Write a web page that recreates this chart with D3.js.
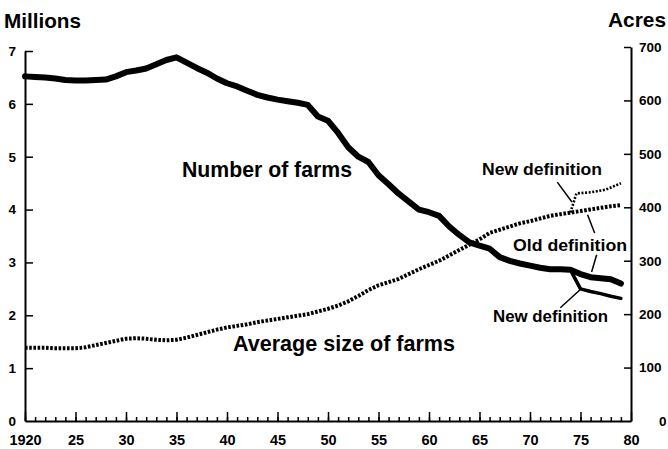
<!DOCTYPE html>
<html>
<head>
<meta charset="utf-8">
<script src="https://cdn.jsdelivr.net/npm/d3@7"></script>
<style>
  body { margin: 0; background: #fff; }
  svg { display: block; }
  text { font-family: "Liberation Sans", Arial, sans-serif; font-weight: bold; fill: #000; }
</style>
</head>
<body>
<svg id="chart" width="668" height="449"></svg>
<script>
// Years 1920..1979
const years = d3.range(1920, 1980);

// Number of farms, millions (old definition)
const farms = [
  6.52, 6.51, 6.50, 6.48, 6.45, 6.44, 6.44, 6.45, 6.46, 6.52,
  6.60, 6.63, 6.67, 6.75, 6.83, 6.88, 6.78, 6.68, 6.59, 6.48,
  6.39, 6.33, 6.25, 6.17, 6.12, 6.08, 6.05, 6.02, 5.98, 5.76,
  5.68, 5.45, 5.18, 5.00, 4.90, 4.65, 4.48, 4.30, 4.15, 4.00,
  3.95, 3.88, 3.68, 3.52, 3.38, 3.32, 3.26, 3.10, 3.03, 2.98,
  2.94, 2.90, 2.87, 2.87, 2.86, 2.78, 2.72, 2.70, 2.68, 2.60
];

// Average size of farms, acres (old definition)
const avgSize = [
  137, 137, 137, 136, 136, 136, 138, 142, 146, 150,
  154, 155, 154, 152, 151, 152, 156, 161, 166, 171,
  175, 178, 181, 185, 188, 191, 194, 197, 200, 205,
  210, 216, 224, 234, 245, 254, 260, 266, 275, 284,
  292, 300, 310, 320, 330, 340, 352, 358, 364, 370,
  374, 379, 384, 387, 390, 393, 396, 399, 402, 404
];

// New definition branches (from 1974)
const newYears = [1974, 1975, 1976, 1977, 1978, 1979];
const farmsNew = [2.86, 2.50, 2.45, 2.41, 2.36, 2.32];
const avgNewYears = [1974, 1974.6, 1976, 1977.5, 1979];
const avgSizeNew = [390, 426, 428, 433, 445];

const leftTicks = [0, 1, 2, 3, 4, 5, 6, 7];
const rightTicks = [0, 100, 200, 300, 400, 500, 600, 700];
const yearTicks = [1920, 1925, 1930, 1935, 1940, 1945, 1950, 1955, 1960, 1965, 1970, 1975, 1980];

const svg = d3.select('#chart');

const x = d3.scaleLinear().domain([1920, 1980]).range([25, 631]);
const yL = d3.scaleLinear().domain([0, 7]).range([421, 51]);
const yR = d3.scaleLinear().domain([0, 700]).range([421, 47]);

// Axes
const xMinor = svg.append('g')
  .attr('transform', `translate(0,${yL(0)})`)
  .call(d3.axisBottom(x).tickValues(years).tickSize(-4).tickSizeOuter(0).tickFormat(''));
xMinor.select('.domain').attr('stroke-width', 2);
xMinor.selectAll('.tick line').attr('stroke-width', 1.5);

const xMajor = svg.append('g')
  .attr('transform', `translate(0,${yL(0)})`)
  .call(d3.axisBottom(x).tickValues(yearTicks).tickSize(-9).tickSizeOuter(0).tickPadding(14)
    .tickFormat(d => d === 1920 ? '1920' : String(d % 100)));
xMajor.select('.domain').remove();
xMajor.selectAll('.tick line').attr('stroke-width', 1.5);
xMajor.selectAll('text').attr('font-size', 14.5).attr('font-family', null);

const left = svg.append('g')
  .attr('transform', `translate(${x(1920)},0)`)
  .call(d3.axisLeft(yL).tickValues(leftTicks).tickSize(-8).tickSizeOuter(0).tickPadding(9)
    .tickFormat(d3.format('d')));
left.select('.domain').attr('stroke-width', 2);
left.selectAll('.tick line').attr('stroke-width', 1.5);
left.selectAll('.tick').filter(d => d === 0).select('line').remove();
left.selectAll('text').attr('font-size', 13.5).attr('font-family', null);

const right = svg.append('g')
  .attr('transform', `translate(${x(1980)},0)`)
  .call(d3.axisRight(yR).tickValues(rightTicks).tickSize(-7).tickSizeOuter(0).tickPadding(8)
    .tickFormat(d3.format('d')));
right.select('.domain').attr('stroke-width', 2);
right.selectAll('.tick line').attr('stroke-width', 1.5);
right.selectAll('.tick').filter(d => d === 0).select('line').remove();
right.selectAll('text').attr('font-size', 13.5).attr('font-family', null)
  .attr('dx', d => d === 0 ? 20 : 0);

// Unit titles
svg.append('text').attr('x', 4).attr('y', 28).attr('font-size', 21)
  .attr('textLength', 77).attr('lengthAdjust', 'spacingAndGlyphs').text('Millions');
svg.append('text').attr('x', 608).attr('y', 27).attr('font-size', 21)
  .attr('textLength', 58).attr('lengthAdjust', 'spacingAndGlyphs').text('Acres');

// Lines
const farmLine = d3.line().x(d => x(d[0])).y(d => yL(d[1]));
const sizeLine = d3.line().x(d => x(d[0])).y(d => yR(d[1]));

svg.append('path')
  .datum(d3.zip(years, avgSize))
  .attr('d', sizeLine)
  .attr('fill', 'none').attr('stroke', '#000')
  .attr('stroke-width', 4).attr('stroke-dasharray', '2.6 1.6');

svg.append('path')
  .datum(d3.zip(avgNewYears, avgSizeNew))
  .attr('d', sizeLine)
  .attr('fill', 'none').attr('stroke', '#000')
  .attr('stroke-width', 2.6).attr('stroke-dasharray', '2 1.6');

svg.append('path')
  .datum(d3.zip(years, farms))
  .attr('d', farmLine)
  .attr('fill', 'none').attr('stroke', '#000')
  .attr('stroke-width', 6).attr('stroke-linejoin', 'round').attr('stroke-linecap', 'round');

svg.append('path')
  .datum(d3.zip(newYears, farmsNew))
  .attr('d', farmLine)
  .attr('fill', 'none').attr('stroke', '#000')
  .attr('stroke-width', 3.5).attr('stroke-linejoin', 'round').attr('stroke-linecap', 'round');

// Leader lines (year, value on the right scale)
const leaders = [
  [[1972.7, 447], [1974.15, 410]],
  [[1975.7, 386], [1976.4, 352]],
  [[1976.6, 311], [1976.1, 279]],
  [[1975.15, 249], [1973.0, 212]]
];
leaders.forEach(l => {
  svg.append('line')
    .attr('x1', x(l[0][0])).attr('y1', yR(l[0][1]))
    .attr('x2', x(l[1][0])).attr('y2', yR(l[1][1]))
    .attr('stroke', '#000').attr('stroke-width', 1.5);
});

// Labels
function label(t, px, py, size, len) {
  svg.append('text').attr('x', px).attr('y', py).attr('font-size', size)
    .attr('textLength', len).attr('lengthAdjust', 'spacingAndGlyphs').text(t);
}
label('Number of farms', 182, 177, 22.5, 170);
label('Average size of farms', 233, 351, 22, 222);
label('New definition', 482, 175, 16, 120);
label('Old definition', 513, 251, 16, 114);
label('New definition', 493, 322, 16, 115);
</script>
</body>
</html>
